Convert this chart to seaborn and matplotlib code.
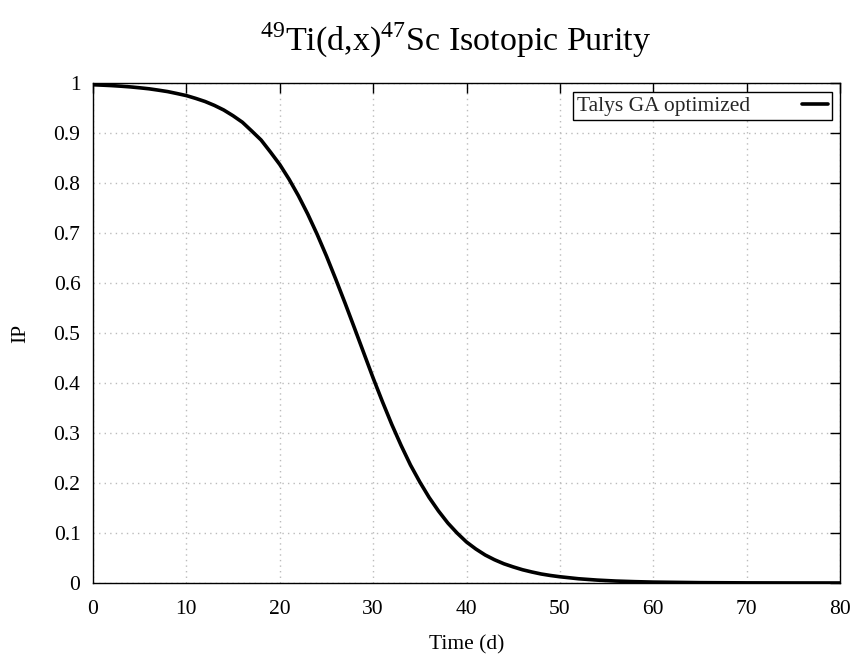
import matplotlib
matplotlib.use("Agg")
import matplotlib.pyplot as plt
import seaborn as sns
import pandas as pd

# Data
time_d = [0, 1, 2, 3, 4, 5, 6, 7, 8, 9, 10, 11, 12, 13, 14, 15, 16, 17, 18, 19,
          20, 21, 22, 23, 24, 25, 26, 27, 28, 29, 30, 31, 32, 33, 34, 35, 36, 37,
          38, 39, 40, 41, 42, 43, 44, 45, 46, 47, 48, 49, 50, 52, 54, 56, 58, 60,
          65, 70, 75, 80]
ip_values = [0.9965, 0.9957, 0.9948, 0.9936, 0.9922, 0.9904, 0.9884, 0.9857,
             0.9828, 0.9789, 0.9748, 0.9692, 0.9630, 0.9552, 0.9460, 0.9345,
             0.9215, 0.9040, 0.8860, 0.8620, 0.8370, 0.8075, 0.7745, 0.7378,
             0.6975, 0.6540, 0.6075, 0.5595, 0.5100, 0.4600, 0.4100, 0.3625,
             0.3170, 0.2750, 0.2360, 0.2020, 0.1710, 0.1440, 0.1200, 0.0998,
             0.0820, 0.0680, 0.0560, 0.0465, 0.0385, 0.0322, 0.0265, 0.0220,
             0.0180, 0.0150, 0.0125, 0.0085, 0.0058, 0.0039, 0.0027, 0.0018,
             0.0007, 0.00025, 0.0001, 0.00003]
series_label = "Talys GA optimized"
x_ticks = [0, 10, 20, 30, 40, 50, 60, 70, 80]
y_ticks = [0, 0.1, 0.2, 0.3, 0.4, 0.5, 0.6, 0.7, 0.8, 0.9, 1]
y_tick_labels = ["0", "0.1", "0.2", "0.3", "0.4", "0.5", "0.6", "0.7", "0.8", "0.9", "1"]

df = pd.DataFrame({"Time (d)": time_d, "IP": ip_values, "series": series_label})

sns.set_theme(style="white")
plt.rcParams["font.family"] = ["Liberation Serif", "DejaVu Serif"]
plt.rcParams["mathtext.fontset"] = "custom"
plt.rcParams["mathtext.rm"] = "Liberation Serif"

fig = plt.figure(figsize=(8.57, 6.55), dpi=100)
ax = fig.add_axes([93 / 857, 1 - 583 / 655, (840 - 93) / 857, (583 - 83) / 655])

sns.lineplot(data=df, x="Time (d)", y="IP", hue="series", palette=["black"],
             linewidth=2.6, ax=ax)

ax.set_xlim(0, 80)
ax.set_ylim(0, 1)
ax.set_xticks(x_ticks)
ax.set_xticklabels([str(v) for v in x_ticks])
ax.set_yticks(y_ticks)
ax.set_yticklabels(y_tick_labels)

ax.grid(True, color="#bbbbbb", linestyle=(0, (1, 3)), linewidth=1.0)
for s in ax.spines.values():
    s.set_color("black")
    s.set_linewidth(1.0)
ax.tick_params(direction="in", length=7, width=1, color="black",
               top=True, right=True, labelsize=15.5, labelcolor="black")
ax.tick_params(axis="x", pad=12)
ax.tick_params(axis="y", pad=9)

ax.set_xlabel("Time (d)", fontsize=15.5, color="black", labelpad=12)
ax.set_ylabel("IP", fontsize=15.5, color="black", labelpad=17)

fig.text(456 / 857, 1 - 40 / 655, r"$^{49}$Ti(d,x)$^{47}$Sc Isotopic Purity",
         ha="center", va="center", fontsize=24.5, color="black")

leg = ax.legend(loc="upper right", bbox_to_anchor=((832 - 93) / 747, (583 - 91.7) / 500),
                markerfirst=False, fancybox=False, framealpha=1, edgecolor="black",
                fontsize=15.5, handlelength=1.2, handletextpad=2.4, borderpad=0.2,
                borderaxespad=0, title=None)
leg.get_frame().set_linewidth(1.0)
leg.set_title(None)

fig.savefig("out.png", dpi=100)
